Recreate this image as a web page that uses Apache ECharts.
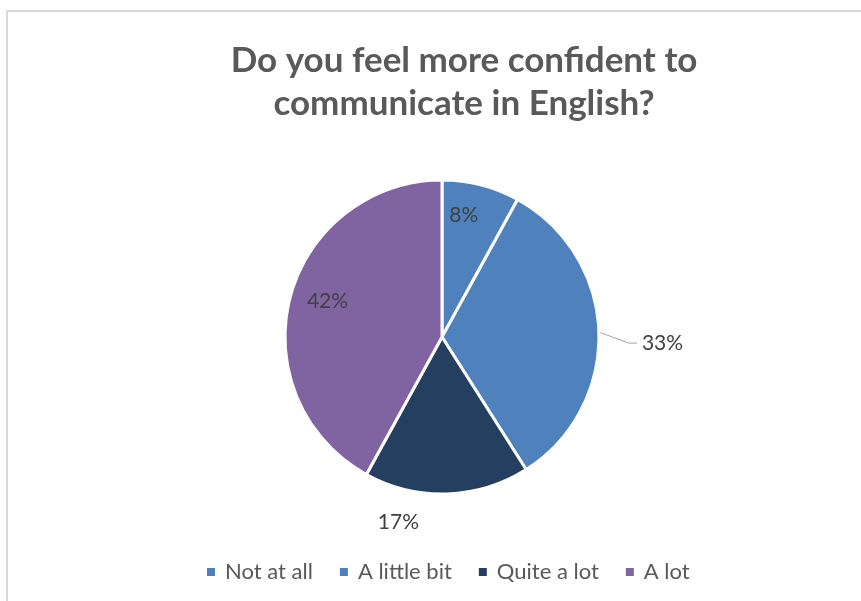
<!DOCTYPE html>
<html>
<head>
<meta charset="utf-8">
<script src="https://cdn.jsdelivr.net/npm/echarts@6/dist/echarts.min.js"></script>
<style>
  html, body { margin: 0; padding: 0; background: #fff; }
  #frame { position: absolute; left: 6px; top: 10px; width: 900px; height: 640px; border: 2px solid #d9d9d9; }
  #chart { position: absolute; left: 0; top: 0; width: 861px; height: 601px; }
</style>
</head>
<body>
<div id="frame"></div>
<div id="chart"></div>
<script>
var categories = ['Not at all', 'A little bit', 'Quite a lot', 'A lot'];
var percents = [8, 33, 17, 42];
var colors = ['#4f81bd', '#4f81bd', '#243f60', '#8064a2'];

var chart = echarts.init(document.getElementById('chart'));

// slices + outside labels
var mainData = [];
// transparent ring, only used to put the inner labels near the rim
var labelData = [];
for (var i = 0; i < categories.length; i++) {
  var outside = (i === 1 || i === 2);
  mainData.push({
    name: categories[i],
    value: percents[i],
    itemStyle: { color: colors[i] },
    label: { show: outside },
    labelLine: { show: i === 1 }
  });
  labelData.push({
    name: categories[i],
    value: percents[i],
    label: { show: !outside }
  });
}

var option = {
  animation: false,
  color: colors,
  title: {
    text: 'Do you feel more confident to\ncommunicate in English?',
    left: 459,
    textAlign: 'center',
    top: 34,
    textStyle: {
      fontFamily: 'Lato',
      fontWeight: 'bold',
      fontSize: 35,
      lineHeight: 43,
      color: '#595959'
    }
  },
  legend: {
    bottom: 13,
    left: 200,
    itemWidth: 10,
    itemHeight: 10,
    itemGap: 25,
    icon: 'rect',
    data: categories,
    textStyle: { fontFamily: 'Lato', fontSize: 22, color: '#595959', padding: [0, 0, 0, 4] }
  },
  series: [
    {
      type: 'pie',
      center: [442, 337],
      radius: [0, 157],
      startAngle: 90,
      clockwise: true,
      data: mainData,
      itemStyle: { borderColor: '#fff', borderWidth: 3 },
      label: {
        position: 'outside',
        formatter: '{c}%',
        fontFamily: 'Lato',
        fontSize: 21,
        color: '#404040'
      },
      labelLine: {
        length: 30,
        length2: 8,
        lineStyle: { color: '#a6a6a6', width: 1 }
      },
      labelLayout: function (p) {
        if (p.dataIndex === 1) {
          var pts = p.labelLinePoints;
          if (pts) {
            pts[1][1] += 12;
            pts[2][1] += 12;
          }
          return { dy: 12, labelLinePoints: pts };
        }
        if (p.dataIndex === 2) return { dx: -83, dy: -2 };
        return {};
      },
      emphasis: { disabled: true }
    },
    {
      type: 'pie',
      center: [442, 337],
      radius: [92, 157],
      startAngle: 90,
      clockwise: true,
      silent: true,
      data: labelData,
      itemStyle: { color: 'rgba(0,0,0,0)' },
      label: {
        position: 'inside',
        formatter: '{c}%',
        fontFamily: 'Lato',
        fontSize: 21,
        color: '#404040'
      },
      labelLayout: function (p) {
        if (p.dataIndex === 0) return { dx: -10, dy: 2 };
        if (p.dataIndex === 3) return { dx: 9, dy: -4 };
        return {};
      },
      legendHoverLink: false,
      emphasis: { disabled: true }
    }
  ]
};
chart.setOption(option);
</script>
</body>
</html>
